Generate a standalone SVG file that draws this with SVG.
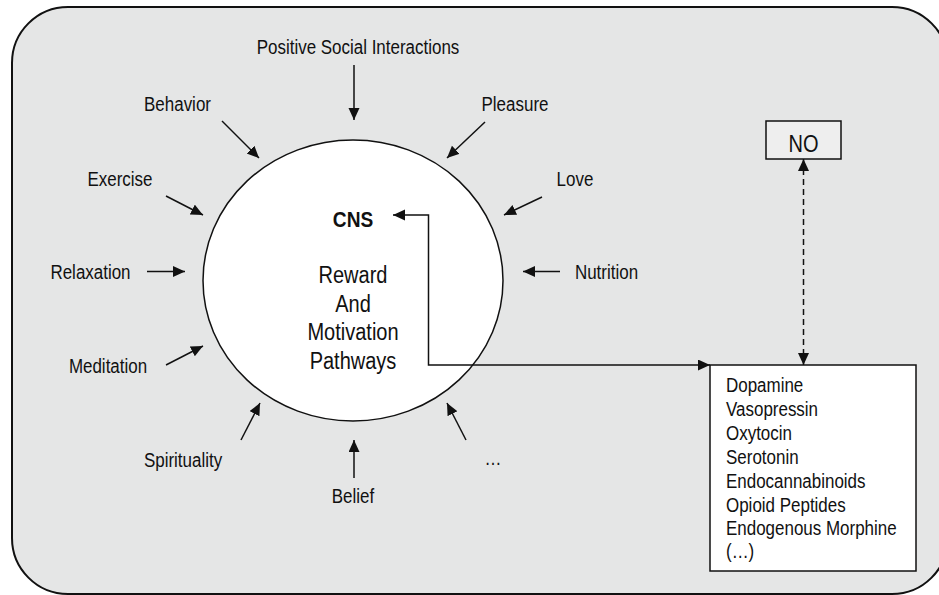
<svg xmlns="http://www.w3.org/2000/svg" width="939" height="595" viewBox="0 0 939 595">
  <style>
    text { font-family: "Liberation Sans", Arial, sans-serif; fill: #111; }
    .lbl { font-size: 19.5px; text-anchor: middle; }
    .core { font-size: 23px; text-anchor: middle; }
    .bold { font-weight: bold; font-size: 22px; }
    .list { font-size: 19.5px; }
    .ln { stroke: #111; stroke-width: 1.5; fill: none; }
  </style>
  <defs>
    <marker id="arrow" markerUnits="userSpaceOnUse" markerWidth="13" markerHeight="12" refX="12" refY="5.5" orient="auto-start-reverse">
      <path d="M0,0 L12,5.5 L0,11 z" fill="#111"/>
    </marker>
  </defs>

  <!-- outer frame -->
  <rect id="frame" x="12" y="7" width="936" height="587" rx="56" ry="56" fill="#e5e6e6" stroke="#111" stroke-width="2"/>

  <!-- central CNS node -->
  <g id="cns">
    <ellipse cx="353" cy="280.5" rx="150" ry="140.5" fill="#fff" stroke="#111" stroke-width="1.5"/>
    <text class="core bold" transform="translate(353 227) scale(0.87 1)">CNS</text>
    <text class="core" transform="translate(353 283) scale(0.87 1)">Reward</text>
    <text class="core" transform="translate(353 311.5) scale(0.87 1)">And</text>
    <text class="core" transform="translate(353 340) scale(0.87 1)">Motivation</text>
    <text class="core" transform="translate(353 368.5) scale(0.87 1)">Pathways</text>
  </g>

  <!-- NO node -->
  <g id="no">
    <rect x="766" y="121" width="75" height="38" fill="#eeeeee" stroke="#111" stroke-width="1.5"/>
    <text class="core" transform="translate(803.5 152) scale(0.87 1)">NO</text>
  </g>

  <!-- messenger list node -->
  <g id="messengers">
    <rect x="710" y="365" width="206" height="206" fill="#fff" stroke="#111" stroke-width="1.5"/>
    <text class="list" transform="translate(726 392) scale(0.87 1)">Dopamine</text>
    <text class="list" transform="translate(726 416) scale(0.87 1)">Vasopressin</text>
    <text class="list" transform="translate(726 440) scale(0.87 1)">Oxytocin</text>
    <text class="list" transform="translate(726 464) scale(0.87 1)">Serotonin</text>
    <text class="list" transform="translate(726 487.5) scale(0.87 1)">Endocannabinoids</text>
    <text class="list" transform="translate(726 511.5) scale(0.87 1)">Opioid Peptides</text>
    <text class="list" transform="translate(726 535) scale(0.87 1)">Endogenous Morphine</text>
    <text class="list" transform="translate(726 558) scale(0.87 1)">(…)</text>
  </g>

  <!-- input labels -->
  <g id="inputs">
    <text id="psi" class="lbl" transform="translate(358 54) scale(0.87 1)">Positive Social Interactions</text>
    <text id="behavior" class="lbl" transform="translate(177.5 111) scale(0.87 1)">Behavior</text>
    <text id="exercise" class="lbl" transform="translate(120 185.5) scale(0.87 1)">Exercise</text>
    <text id="relaxation" class="lbl" transform="translate(90.5 279) scale(0.87 1)">Relaxation</text>
    <text id="meditation" class="lbl" transform="translate(108 373) scale(0.87 1)">Meditation</text>
    <text id="spirituality" class="lbl" transform="translate(183 467) scale(0.87 1)">Spirituality</text>
    <text id="belief" class="lbl" transform="translate(353 503) scale(0.87 1)">Belief</text>
    <text id="etc" class="lbl" transform="translate(493 465) scale(0.87 1)">…</text>
    <text id="pleasure" class="lbl" transform="translate(515 111) scale(0.87 1)">Pleasure</text>
    <text id="love" class="lbl" transform="translate(575 185.5) scale(0.87 1)">Love</text>
    <text id="nutrition" class="lbl" transform="translate(606.5 279) scale(0.87 1)">Nutrition</text>
  </g>

  <!-- connectors -->
  <g id="connectors" class="ln" marker-end="url(#arrow)">
    <line x1="354" y1="65" x2="354" y2="120"/>
    <line x1="222" y1="121" x2="259" y2="158"/>
    <line x1="166" y1="196" x2="203" y2="215"/>
    <line x1="147" y1="271.5" x2="185" y2="271.5"/>
    <line x1="166" y1="365" x2="203" y2="346"/>
    <line x1="241" y1="440" x2="260" y2="403"/>
    <line x1="354" y1="478" x2="354" y2="440"/>
    <line x1="466" y1="440" x2="447" y2="403"/>
    <line x1="485" y1="122" x2="447" y2="158"/>
    <line x1="542" y1="197" x2="504" y2="215"/>
    <line x1="560" y1="271.5" x2="523" y2="271.5"/>
    <polyline points="710,365 428.5,365 428.5,215 393,215" marker-start="url(#arrow)"/>
    <line x1="803.5" y1="159" x2="803.5" y2="365" stroke-dasharray="6,4" marker-start="url(#arrow)"/>
  </g>
</svg>
